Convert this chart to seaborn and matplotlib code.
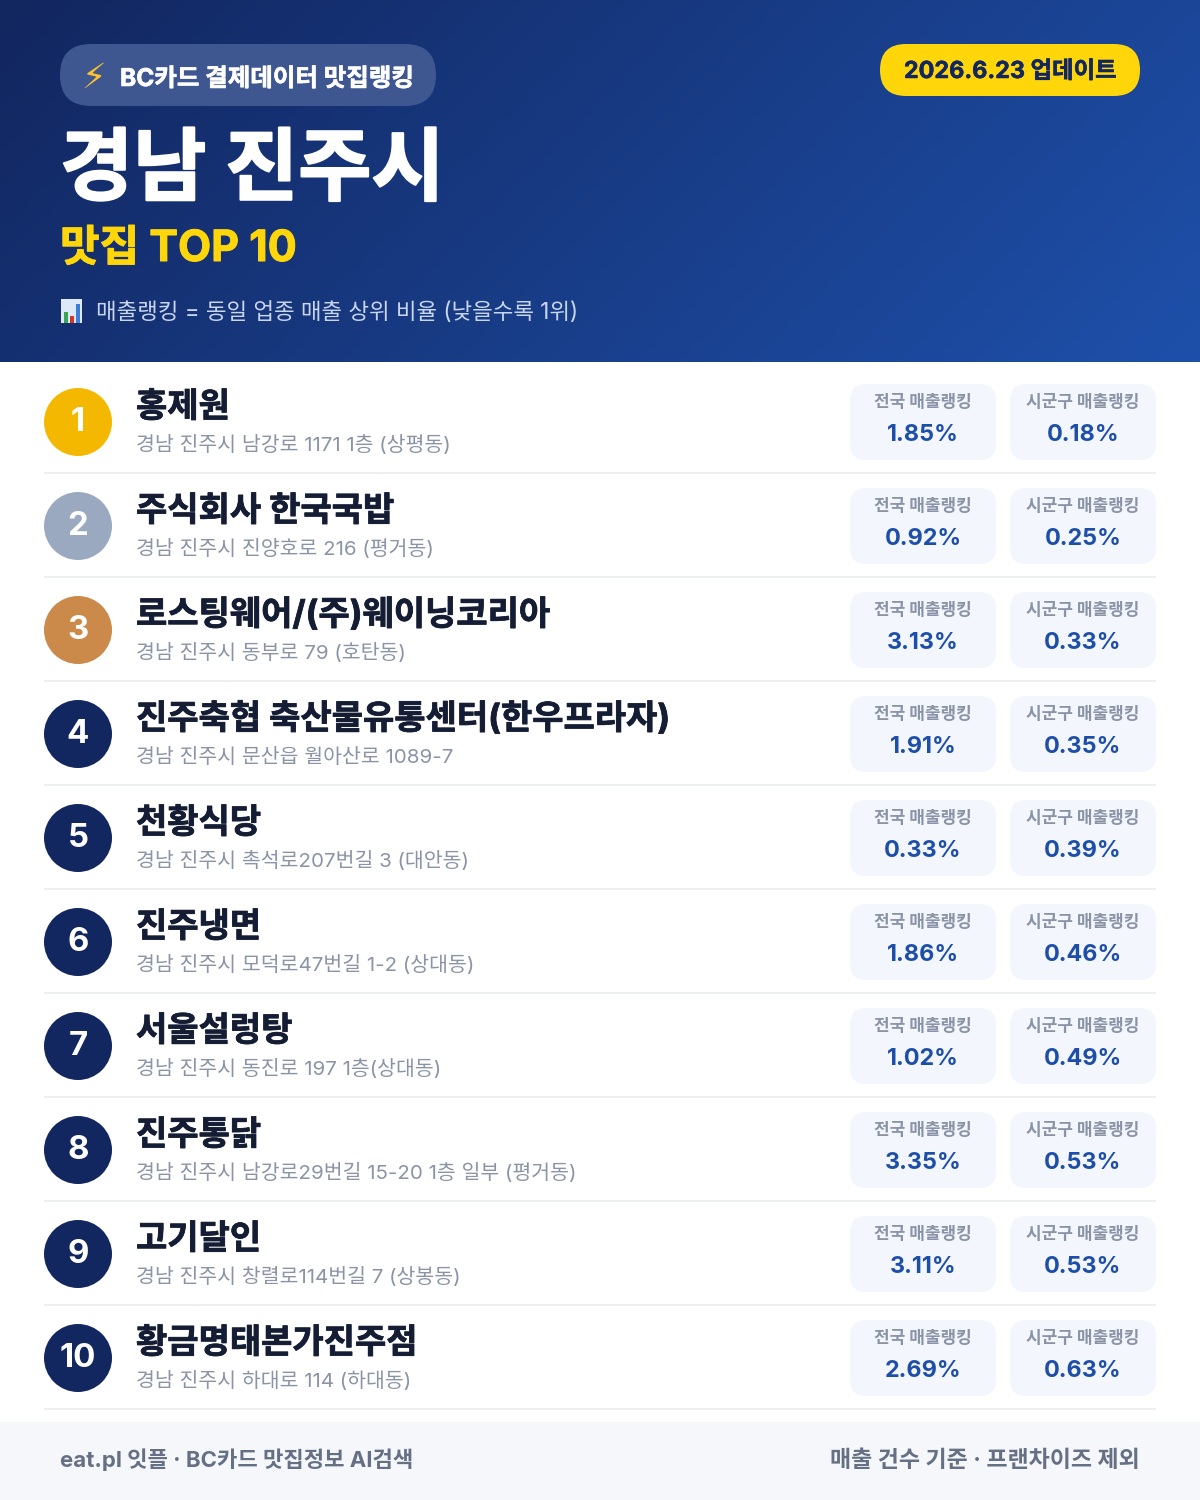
import numpy as np
import pandas as pd
import matplotlib.pyplot as plt
import matplotlib.patheffects as pe
import seaborn as sns
from matplotlib.patches import FancyBboxPatch, Rectangle

# 데이터
names = ["홍제원", "주식회사 한국국밥", "로스팅웨어/(주)웨이닝코리아", "진주축협 축산물유통센터(한우프라자)", "천황식당",
         "진주냉면", "서울설렁탕", "진주통닭", "고기달인", "황금명태본가진주점"]
addresses = ["경남 진주시 남강로 1171 1층 (상평동)", "경남 진주시 진양호로 216 (평거동)", "경남 진주시 동부로 79 (호탄동)",
             "경남 진주시 문산읍 월아산로 1089-7", "경남 진주시 촉석로207번길 3 (대안동)", "경남 진주시 모덕로47번길 1-2 (상대동)",
             "경남 진주시 동진로 197 1층(상대동)", "경남 진주시 남강로29번길 15-20 1층 일부 (평거동)",
             "경남 진주시 창렬로114번길 7 (상봉동)", "경남 진주시 하대로 114 (하대동)"]
national = [1.85, 0.92, 3.13, 1.91, 0.33, 1.86, 1.02, 3.35, 3.11, 2.69]
local = [0.18, 0.25, 0.33, 0.35, 0.39, 0.46, 0.49, 0.53, 0.53, 0.63]
ranks = list(range(1, 11))

NAVY = "#12265f"
BLUE = "#1e4fa8"
YELLOW = "#ffd60a"
rank_colors = ["#f5b800", "#9ba9c0", "#cb8a4a"] + [NAVY] * 7

sns.set_theme(style="white")
plt.rcParams["font.family"] = ["Inter", "Noto Sans CJK KR", "DejaVu Sans"]


def px(size):
    return size * 72 / 100


fig = plt.figure(figsize=(12, 15), dpi=100)
ax = fig.add_axes([0, 0, 1, 1])
ax.set_xlim(0, 1200)
ax.set_ylim(1500, 0)
ax.axis("off")


def pill(x0, y0, x1, y1, r, color):
    ax.add_patch(FancyBboxPatch((x0 + r, y0 + r), x1 - x0 - 2 * r, y1 - y0 - 2 * r,
                                boxstyle=f"round,pad={r},rounding_size={r}",
                                fc=color, ec="none", zorder=2))


def label(x, y, s, size, color, weight="normal", ha="left", stroke=0, **kw):
    t = ax.text(x, y, s, fontsize=px(size), color=color, fontweight=weight, ha=ha, va="baseline", zorder=4, **kw)
    # 원본 글자가 더 굵어서 외곽선으로 보정
    if stroke:
        t.set_path_effects([pe.withStroke(linewidth=px(stroke), foreground=color)])


# 헤더 그라데이션
gx, gy = np.meshgrid(np.linspace(0, 1, 300), np.linspace(0, 1, 100))
grad = (gx * 1200 + gy * 362) / 1562
c0 = np.array([0x12, 0x26, 0x5f]) / 255
c1 = np.array([0x1e, 0x50, 0xaa]) / 255
ax.imshow(c0 + grad[..., None] * (c1 - c0), extent=(0, 1200, 362, 0), aspect="auto", zorder=1)
ax.set_xlim(0, 1200)
ax.set_ylim(1500, 0)

pill(60, 44, 436, 106, 31, "#3f5790")
label(81, 88, "⚡", 35, "#fbc02e", family="DejaVu Sans")
label(120, 86, "BC카드 결제데이터 맛집랭킹", 24.5, "white", "bold", stroke=0.6)
pill(880, 44, 1140, 96, 26, YELLOW)
label(1010, 78, "2026.6.23 업데이트", 23.4, NAVY, "bold", ha="center", stroke=0.5)

label(60, 194, "경남 진주시", 79.5, "white", "bold", stroke=2)
label(60, 261, "맛집 TOP 10", 43, YELLOW, "bold", stroke=1)

# 📊 아이콘
ax.add_patch(Rectangle((61, 299), 21, 24, fc="#dfe8f5", ec="none", zorder=3))
for bx, top, col in zip([64, 70, 76], [312, 316, 304], ["#3aa655", "#d8352a", "#3d7edb"]):
    ax.add_patch(Rectangle((bx, top), 4, 323 - top, fc=col, ec="none", zorder=4))
label(96, 319, "매출랭킹 = 동일 업종 매출 상위 비율 (낮을수록 1위)", 22.4, "#c8d6f0")

# 순위 행
df = pd.DataFrame({"rank": ranks, "name": names, "address": addresses, "national": national, "local": local})
df["row"] = df["rank"] - 1
df["cx"] = 78
df["cy"] = 422 + 104 * df["row"]
sns.scatterplot(data=df, x="cx", y="cy", hue="rank", palette=rank_colors, s=px(68) ** 2,
                linewidth=0, legend=False, ax=ax, zorder=3)
ax.set_xlim(0, 1200)
ax.set_ylim(1500, 0)
ax.axis("off")

for row in df.itertuples():
    dy = 104 * row.row
    label(78, 431 + dy, str(row.rank), 33, "white", "bold", ha="center")
    label(136, 417 + dy, row.name, 34, "#141d33", "bold", stroke=0.8)
    label(136, 451 + dy, row.address, 20.5, "#8a94a6")
    ax.plot([44, 1156], [473 + dy, 473 + dy], color="#eceef1", lw=px(2), zorder=2, solid_capstyle="butt")
    for x0, title, val in [(850, "전국 매출랭킹", row.national), (1010, "시군구 매출랭킹", row.local)]:
        pill(x0, 384 + dy, x0 + 146, 460 + dy, 16, "#f3f6fd")
        label(x0 + 73, 407 + dy, title, 17, "#8a94a6", "bold", ha="center")
        label(x0 + 73, 441 + dy, f"{val:.2f}%", 23.4, BLUE, "bold", ha="center")

# 푸터
ax.add_patch(Rectangle((0, 1422), 1200, 78, fc="#f5f7fa", ec="none", zorder=1))
label(60, 1467, "eat.pl 잇플 · BC카드 맛집정보 AI검색", 22.2, "#667085", "bold")
label(1140, 1467, "매출 건수 기준 · 프랜차이즈 제외", 23, "#667085", "bold", ha="right")

fig.savefig("out.png", dpi=100, facecolor="white")
